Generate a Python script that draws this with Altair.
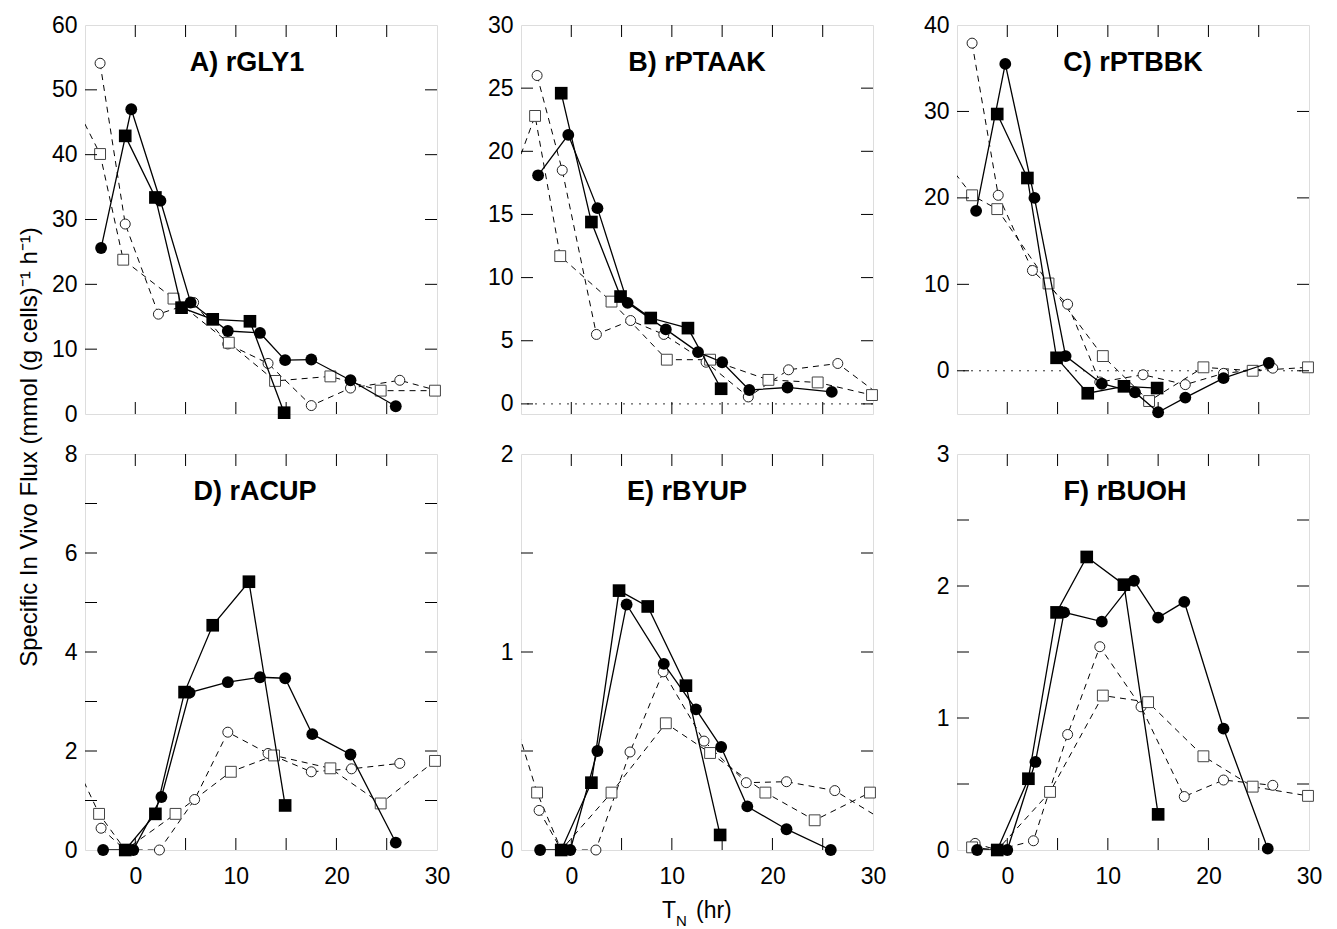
import altair as alt
import pandas as pd

FONT = "Liberation Sans"
W = 352
H_TOP = 389
H_BOT = 396

# ---------------- data ----------------
# fsq = filled squares (solid), fci = filled circles (solid),
# oci = open circles (dashed), osq = open squares (dashed)
A_fsq_x = [-1.0, 2.0, 4.6, 7.7, 11.4, 14.8]
A_fsq_y = [42.9, 33.4, 16.4, 14.6, 14.3, 0.2]
A_fci_x = [-3.4, -0.4, 2.5, 5.5, 9.2, 12.4, 14.9, 17.5, 21.4, 25.9]
A_fci_y = [25.6, 47.0, 32.9, 17.2, 12.8, 12.5, 8.3, 8.4, 5.2, 1.2]
A_oci_x = [-3.5, -1.0, 2.3, 5.8, 9.2, 13.2, 17.5, 21.4, 26.3, 31.5]
A_oci_y = [54.1, 29.3, 15.4, 17.2, 10.8, 7.8, 1.3, 4.0, 5.2, 3.0]
A_osq_x = [-6.5, -3.5, -1.2, 3.8, 9.3, 13.9, 19.4, 24.4, 29.8]
A_osq_y = [49.3, 40.1, 23.8, 17.8, 11.0, 5.1, 5.8, 3.6, 3.6]

B_fsq_x = [-1.0, 2.0, 4.9, 7.9, 11.6, 14.9]
B_fsq_y = [24.6, 14.4, 8.5, 6.8, 6.0, 1.2]
B_fci_x = [-3.3, -0.3, 2.6, 5.6, 9.4, 12.6, 15.0, 17.7, 21.5, 25.9]
B_fci_y = [18.1, 21.3, 15.5, 8.0, 5.9, 4.1, 3.3, 1.1, 1.3, 0.95]
B_oci_x = [-3.4, -0.9, 2.5, 5.9, 9.2, 13.4, 17.6, 21.6, 26.5, 31.5]
B_oci_y = [26.0, 18.5, 5.5, 6.6, 5.5, 3.3, 0.55, 2.7, 3.2, 0.2]
B_osq_x = [-6.5, -3.6, -1.1, 4.0, 9.5, 13.8, 19.6, 24.5, 29.9]
B_osq_y = [16.5, 22.8, 11.7, 8.1, 3.5, 3.5, 1.9, 1.7, 0.7]

C_fsq_x = [-1.0, 2.0, 4.9, 8.0, 11.6, 14.9]
C_fsq_y = [29.7, 22.3, 1.5, -2.6, -1.8, -2.0]
C_fci_x = [-3.1, -0.2, 2.7, 5.8, 9.4, 12.7, 15.0, 17.7, 21.5, 26.0]
C_fci_y = [18.5, 35.5, 20.0, 1.7, -1.5, -2.5, -4.8, -3.1, -0.85, 0.9]
C_oci_x = [-3.5, -0.9, 2.5, 6.0, 9.2, 13.5, 17.7, 21.5, 26.4]
C_oci_y = [37.9, 20.3, 11.6, 7.7, -1.3, -0.46, -1.6, -0.3, 0.3]
C_osq_x = [-6.5, -3.5, -1.0, 4.1, 9.5, 14.1, 19.5, 24.4, 29.9]
C_osq_y = [24.8, 20.3, 18.7, 10.1, 1.7, -3.5, 0.4, 0.0, 0.4]

D_fsq_x = [-1.0, 2.0, 4.9, 7.7, 11.3, 14.9]
D_fsq_y = [0.0, 0.73, 3.19, 4.54, 5.42, 0.9]
D_fci_x = [-3.2, -0.2, 2.6, 5.4, 9.2, 12.4, 14.9, 17.6, 21.4, 25.9]
D_fci_y = [0.0, 0.0, 1.07, 3.18, 3.39, 3.49, 3.47, 2.34, 1.93, 0.15]
D_oci_x = [-3.4, -1.0, 2.4, 5.9, 9.2, 13.2, 17.5, 21.5, 26.3]
D_oci_y = [0.44, 0.0, 0.0, 1.02, 2.38, 1.95, 1.58, 1.64, 1.75]
D_osq_x = [-6.5, -3.6, -1.0, 4.0, 9.5, 13.8, 19.4, 24.4, 29.8]
D_osq_y = [1.98, 0.73, 0.0, 0.73, 1.58, 1.91, 1.65, 0.94, 1.8]

E_fsq_x = [-1.0, 2.0, 4.75, 7.6, 11.4, 14.8]
E_fsq_y = [0.0, 0.34, 1.31, 1.23, 0.83, 0.076]
E_fci_x = [-3.1, -0.1, 2.6, 5.5, 9.2, 12.4, 14.9, 17.5, 21.4, 25.8]
E_fci_y = [0.0, 0.0, 0.50, 1.24, 0.94, 0.71, 0.52, 0.22, 0.105, 0.0]
E_oci_x = [-3.2, -1.0, 2.45, 5.84, 9.14, 13.2, 17.4, 21.4, 26.2, 32.0]
E_oci_y = [0.2, 0.0, 0.0, 0.495, 0.90, 0.55, 0.34, 0.345, 0.30, 0.12]
E_osq_x = [-6.5, -3.4, -1.0, 4.0, 9.4, 13.8, 19.3, 24.2, 29.7]
E_osq_y = [0.8, 0.29, 0.0, 0.29, 0.64, 0.49, 0.29, 0.15, 0.29]

F_fsq_x = [-1.0, 2.1, 4.9, 7.9, 11.6, 15.0]
F_fsq_y = [0.0, 0.54, 1.80, 2.22, 2.01, 0.27]
F_fci_x = [-3.0, 0.0, 2.8, 5.65, 9.4, 12.6, 15.0, 17.6, 21.5, 25.9]
F_fci_y = [0.0, 0.0, 0.667, 1.80, 1.73, 2.04, 1.76, 1.88, 0.92, 0.01]
F_oci_x = [-3.2, -1.0, 2.6, 6.0, 9.2, 13.3, 17.6, 21.5, 26.4]
F_oci_y = [0.05, 0.0, 0.07, 0.875, 1.54, 1.085, 0.405, 0.53, 0.49]
F_osq_x = [-3.5, -1.0, 4.25, 9.5, 14.0, 19.5, 24.4, 29.9]
F_osq_y = [0.02, 0.0, 0.44, 1.17, 1.12, 0.71, 0.48, 0.41]

TITLES = ["A) rGLY1", "B) rPTAAK", "C) rPTBBK", "D) rACUP", "E) rBYUP", "F) rBUOH"]
Y_TITLE = "Specific In Vivo Flux (mmol (g cells)\u207b\u00b9 h\u207b\u00b9)"
Y_DOMAINS = [[0, 60], [-0.8, 30], [-5, 40], [0, 8], [0, 2], [0, 3]]
Y_LABELS = [
    [0, 10, 20, 30, 40, 50, 60],
    [0, 5, 10, 15, 20, 25, 30],
    [0, 10, 20, 30, 40],
    [0, 2, 4, 6, 8],
    [0, 1, 2],
    [0, 1, 2, 3],
]
Y_TICKS = [
    [10, 20, 30, 40, 50],
    [0, 5, 10, 15, 20, 25],
    [0, 10, 20, 30],
    [1, 2, 3, 4, 5, 6, 7],
    [0.5, 1, 1.5],
    [0.5, 1, 1.5, 2, 2.5],
]
X_DOMAIN = [-5, 30]
X_LABELS = [0, 10, 20, 30]
X_TICKS = [0, 5, 10, 15, 20, 25]
TITLE_DX = [-14, 0, 0, -6, -10, -8]
ZERO_LINE = [False, True, True, False, False, False]

SERIES = {
    "A": [(A_fsq_x, A_fsq_y), (A_fci_x, A_fci_y), (A_oci_x, A_oci_y), (A_osq_x, A_osq_y)],
    "B": [(B_fsq_x, B_fsq_y), (B_fci_x, B_fci_y), (B_oci_x, B_oci_y), (B_osq_x, B_osq_y)],
    "C": [(C_fsq_x, C_fsq_y), (C_fci_x, C_fci_y), (C_oci_x, C_oci_y), (C_osq_x, C_osq_y)],
    "D": [(D_fsq_x, D_fsq_y), (D_fci_x, D_fci_y), (D_oci_x, D_oci_y), (D_osq_x, D_osq_y)],
    "E": [(E_fsq_x, E_fsq_y), (E_fci_x, E_fci_y), (E_oci_x, E_oci_y), (E_osq_x, E_osq_y)],
    "F": [(F_fsq_x, F_fsq_y), (F_fci_x, F_fci_y), (F_oci_x, F_oci_y), (F_osq_x, F_osq_y)],
}

TICK_LEN = 12


def df_of(xs, ys):
    return pd.DataFrame({"x": xs, "y": ys, "i": list(range(len(xs)))})


def label(text, x, y, size, angle=0, weight="normal", align="left", baseline="alphabetic"):
    return alt.Chart(pd.DataFrame({"t": [text]})).mark_text(
        font=FONT, fontSize=size, fontWeight=weight, color="black", align=align,
        baseline=baseline, angle=angle,
    ).encode(x=alt.value(x), y=alt.value(y), text="t:N")


def make_panel(idx, key):
    bottom = idx >= 3
    H = H_BOT if bottom else H_TOP
    fsq, fci, oci, osq = [df_of(*s) for s in SERIES[key]]

    if bottom:
        xaxis = alt.Axis(values=X_LABELS, labelFontSize=23, labelFont=FONT, labelColor="black",
                         labelPadding=15, ticks=False, domain=False, grid=False,
                         labelExpr="format(datum.value, '.0f')",
                         labelFlush=False, labelOverlap=False, title=None)
    else:
        xaxis = None
    X = alt.X("x:Q", scale=alt.Scale(domain=X_DOMAIN, nice=False, zero=False), axis=xaxis, title=None)
    Y = alt.Y("y:Q", scale=alt.Scale(domain=Y_DOMAINS[idx], nice=False, zero=False),
              axis=alt.Axis(values=Y_LABELS[idx], labelFontSize=23, labelFont=FONT, labelColor="black",
                            labelPadding=8, ticks=False, domain=False, grid=False,
                            labelExpr="format(datum.value, '.0f')",
                            labelFlush=False, labelOverlap=False, minExtent=38, maxExtent=38,
                            title=None),
              title=None)

    in_dom = (alt.datum.x >= X_DOMAIN[0]) & (alt.datum.x <= X_DOMAIN[1] + 0.5)
    layers = []
    if ZERO_LINE[idx]:
        layers.append(alt.Chart(pd.DataFrame({"y": [0]})).mark_rule(
            color="#333", strokeWidth=1, strokeDash=[2, 6]).encode(y=Y))

    dashed = dict(clip=True, color="black", strokeWidth=1, strokeDash=[6, 5])
    solid = dict(clip=True, color="black", strokeWidth=1.3)
    layers.append(alt.Chart(oci).mark_line(**dashed).encode(x=X, y=Y, order="i:Q"))
    layers.append(alt.Chart(osq).mark_line(**dashed).encode(x=X, y=Y, order="i:Q"))
    layers.append(alt.Chart(oci).transform_filter(in_dom).mark_point(
        shape="circle", filled=True, fill="white", stroke="#222", strokeWidth=1, size=100, opacity=1
    ).encode(x=X, y=Y))
    layers.append(alt.Chart(osq).transform_filter(in_dom).mark_point(
        shape="square", filled=True, fill="white", stroke="#444", strokeWidth=1, size=118, opacity=1
    ).encode(x=X, y=Y))
    layers.append(alt.Chart(fsq).mark_line(**solid).encode(x=X, y=Y, order="i:Q"))
    layers.append(alt.Chart(fci).mark_line(**solid).encode(x=X, y=Y, order="i:Q"))
    layers.append(alt.Chart(fsq).mark_point(
        shape="square", filled=True, color="black", size=160, opacity=1).encode(x=X, y=Y))
    layers.append(alt.Chart(fci).mark_point(
        shape="circle", filled=True, color="black", size=140, opacity=1).encode(x=X, y=Y))

    # inward ticks on all four sides
    yt = pd.DataFrame({"y": Y_TICKS[idx]})
    xt = pd.DataFrame({"x": X_TICKS})
    tick = dict(color="black", strokeWidth=1)
    layers.append(alt.Chart(yt).mark_rule(**tick).encode(y=Y, x=alt.value(0), x2=alt.value(TICK_LEN)))
    layers.append(alt.Chart(yt).mark_rule(**tick).encode(y=Y, x=alt.value(W - TICK_LEN), x2=alt.value(W)))
    layers.append(alt.Chart(xt).mark_rule(**tick).encode(x=X, y=alt.value(0), y2=alt.value(TICK_LEN)))
    layers.append(alt.Chart(xt).mark_rule(**tick).encode(x=X, y=alt.value(H - TICK_LEN), y2=alt.value(H)))

    # panel title
    layers.append(label(TITLES[idx], W / 2 + TITLE_DX[idx], 38, 27, weight="bold",
                        align="center", baseline="middle"))

    if key == "D":
        # shared y-axis title, centred between the two rows
        layers.append(label(Y_TITLE, -55, -7, 24, angle=270, align="center", baseline="middle"))

    if key == "E":
        layers.append(label("T", W / 2 - 35, H + 68, 23))
        layers.append(label("N", W / 2 - 21, H + 76, 15))
        layers.append(label("(hr)", W / 2 - 1, H + 68, 23))

    return alt.layer(*layers).properties(width=W, height=H)


panels = [make_panel(i, k) for i, k in enumerate(["A", "B", "C", "D", "E", "F"])]

chart = alt.concat(
    *panels, columns=3, spacing={"row": 40, "column": 84}, bounds="flush"
).properties(
    padding={"left": 9, "top": 5, "right": 5, "bottom": 2},
).configure_view(stroke="black", strokeWidth=1).configure(background="white")

chart.save("out.html", embed_options={"renderer": "svg", "actions": False})
